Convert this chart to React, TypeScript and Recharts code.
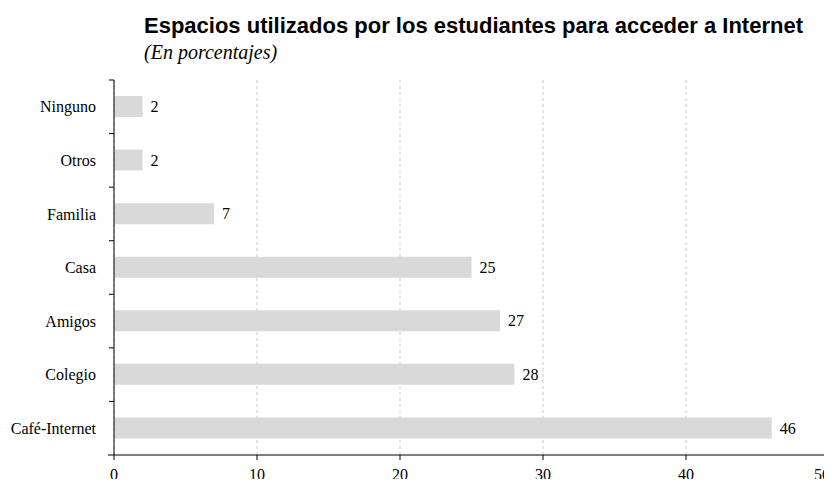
import { BarChart, Bar, XAxis, YAxis, CartesianGrid, LabelList } from 'recharts';

const categories = ['Ninguno', 'Otros', 'Familia', 'Casa', 'Amigos', 'Colegio', 'Café-Internet'];
const values = [2, 2, 7, 25, 27, 28, 46];
const xTicks = [0, 10, 20, 30, 40, 50];

const data = categories.map((name, i) => ({ name, value: values[i] }));

const W = 832;
const H = 487;
const TOP = 80;
const BOTTOM_AXIS = 32;
const BAND = (H - TOP - BOTTOM_AXIS) / categories.length;

const serif = '"Liberation Serif", "Times New Roman", serif';

// category labels, with the small tick marks sitting between the bands
const CategoryTick = (props: any) => {
    const { x, y, payload, index } = props;
    const axisX = x + 18;
    const half = BAND / 2;
    return (
        <g>
            <text x={x} y={y} dy="0.35em" textAnchor="end" fontFamily={serif} fontSize={16} fill="#000">
                {payload.value}
            </text>
            <line x1={axisX - 5} x2={axisX} y1={y - half} y2={y - half} stroke="#000" />
            {index === categories.length - 1 && (
                <line x1={axisX - 6} x2={axisX} y1={y + half} y2={y + half} stroke="#000" />
            )}
        </g>
    );
};

// last label pulled in so it stays inside the picture
const ValueTick = (props: any) => {
    const { x, y, payload, index } = props;
    const last = index === xTicks.length - 1;
    return (
        <text
            x={last ? W - 2 : x}
            y={y}
            dy="0.71em"
            textAnchor={last ? 'end' : 'middle'}
            fontFamily={serif}
            fontSize={16}
            fill="#000"
        >
            {payload.value}
        </text>
    );
};

export default function App() {
    return (
        <div style={{ margin: -8, position: 'relative', width: W, height: H, background: '#fff', overflow: 'hidden' }}>
            <svg width={W} height={70} style={{ position: 'absolute', left: 0, top: 0 }}>
                <text x={144} y={33} fontFamily='"Liberation Sans", Arial, sans-serif' fontWeight="bold" fontSize={22} fill="#000">
                    Espacios utilizados por los estudiantes para acceder a Internet
                </text>
                <text x={144} y={59} fontFamily={serif} fontStyle="italic" fontSize={20} fill="#000">
                    (En porcentajes)
                </text>
            </svg>
            <div style={{ position: 'absolute', left: 0, top: 0 }}>
                <BarChart
                    width={W}
                    height={H}
                    data={data}
                    layout="vertical"
                    margin={{ top: TOP, right: 3, bottom: 0, left: 0 }}
                >
                    <CartesianGrid horizontal={false} strokeDasharray="3 3" stroke="#c8c8c8" />
                    <XAxis
                        type="number"
                        domain={[0, 50]}
                        ticks={xTicks}
                        height={BOTTOM_AXIS}
                        tickSize={5}
                        tickMargin={9}
                        stroke="#000"
                        tick={<ValueTick />}
                        interval={0}
                    />
                    <YAxis
                        type="category"
                        dataKey="name"
                        width={114}
                        tickLine={false}
                        tickSize={0}
                        tickMargin={18}
                        stroke="#000"
                        tick={<CategoryTick />}
                        interval={0}
                    />
                    <Bar dataKey="value" fill="#d9d9d9" barSize={21} isAnimationActive={false}>
                        <LabelList dataKey="value" position="right" offset={8} fontFamily={serif} fontSize={16} fill="#000" />
                    </Bar>
                </BarChart>
            </div>
        </div>
    );
}
